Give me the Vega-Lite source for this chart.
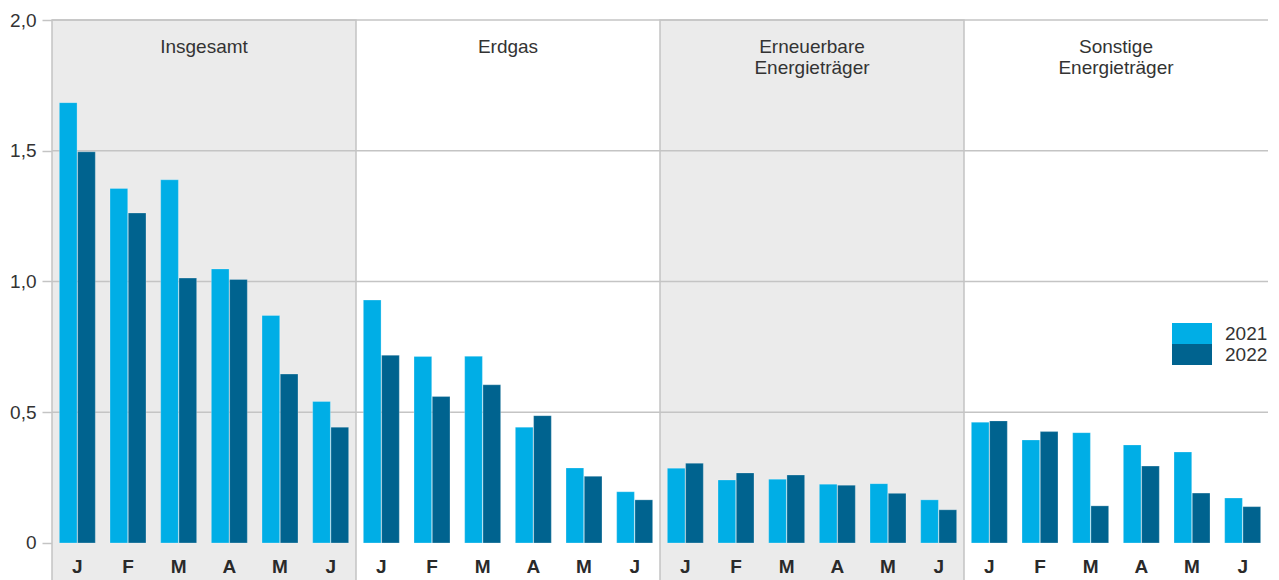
{
  "$schema": "https://vega.github.io/schema/vega-lite/v6.json",
  "width": 1216,
  "height": 560,
  "autosize": {"type": "none"},
  "padding": {"left": 52, "top": 20, "right": 11, "bottom": 0},
  "background": "white",
  "config": {"view": {"stroke": null}, "font": "Liberation Sans"},
  "datasets": {
    "felder": [
      {"kategorie": "Insgesamt", "titel": "Insgesamt"},
      {"kategorie": "Erdgas", "titel": "Erdgas"},
      {"kategorie": "Erneuerbare", "titel": "Erneuerbare\nEnergieträger"},
      {"kategorie": "Sonstige", "titel": "Sonstige\nEnergieträger"}
    ],
    "gitter": [{"y": 0.5}, {"y": 1.0}, {"y": 1.5}, {"y": 2.0}],
    "werte": [
      {"kategorie": "Insgesamt", "slot": "Insgesamt Jan", "kuerzel": "J", "jahr": "2021", "wert": 1.684},
      {"kategorie": "Insgesamt", "slot": "Insgesamt Jan", "kuerzel": "J", "jahr": "2022", "wert": 1.496},
      {"kategorie": "Insgesamt", "slot": "Insgesamt Feb", "kuerzel": "F", "jahr": "2021", "wert": 1.356},
      {"kategorie": "Insgesamt", "slot": "Insgesamt Feb", "kuerzel": "F", "jahr": "2022", "wert": 1.262},
      {"kategorie": "Insgesamt", "slot": "Insgesamt Mär", "kuerzel": "M", "jahr": "2021", "wert": 1.389},
      {"kategorie": "Insgesamt", "slot": "Insgesamt Mär", "kuerzel": "M", "jahr": "2022", "wert": 1.013},
      {"kategorie": "Insgesamt", "slot": "Insgesamt Apr", "kuerzel": "A", "jahr": "2021", "wert": 1.048},
      {"kategorie": "Insgesamt", "slot": "Insgesamt Apr", "kuerzel": "A", "jahr": "2022", "wert": 1.008},
      {"kategorie": "Insgesamt", "slot": "Insgesamt Mai", "kuerzel": "M", "jahr": "2021", "wert": 0.870},
      {"kategorie": "Insgesamt", "slot": "Insgesamt Mai", "kuerzel": "M", "jahr": "2022", "wert": 0.646},
      {"kategorie": "Insgesamt", "slot": "Insgesamt Jun", "kuerzel": "J", "jahr": "2021", "wert": 0.541},
      {"kategorie": "Insgesamt", "slot": "Insgesamt Jun", "kuerzel": "J", "jahr": "2022", "wert": 0.443},
      {"kategorie": "Erdgas", "slot": "Erdgas Jan", "kuerzel": "J", "jahr": "2021", "wert": 0.929},
      {"kategorie": "Erdgas", "slot": "Erdgas Jan", "kuerzel": "J", "jahr": "2022", "wert": 0.718},
      {"kategorie": "Erdgas", "slot": "Erdgas Feb", "kuerzel": "F", "jahr": "2021", "wert": 0.713},
      {"kategorie": "Erdgas", "slot": "Erdgas Feb", "kuerzel": "F", "jahr": "2022", "wert": 0.560},
      {"kategorie": "Erdgas", "slot": "Erdgas Mär", "kuerzel": "M", "jahr": "2021", "wert": 0.714},
      {"kategorie": "Erdgas", "slot": "Erdgas Mär", "kuerzel": "M", "jahr": "2022", "wert": 0.605},
      {"kategorie": "Erdgas", "slot": "Erdgas Apr", "kuerzel": "A", "jahr": "2021", "wert": 0.443},
      {"kategorie": "Erdgas", "slot": "Erdgas Apr", "kuerzel": "A", "jahr": "2022", "wert": 0.487},
      {"kategorie": "Erdgas", "slot": "Erdgas Mai", "kuerzel": "M", "jahr": "2021", "wert": 0.287},
      {"kategorie": "Erdgas", "slot": "Erdgas Mai", "kuerzel": "M", "jahr": "2022", "wert": 0.255},
      {"kategorie": "Erdgas", "slot": "Erdgas Jun", "kuerzel": "J", "jahr": "2021", "wert": 0.196},
      {"kategorie": "Erdgas", "slot": "Erdgas Jun", "kuerzel": "J", "jahr": "2022", "wert": 0.165},
      {"kategorie": "Erneuerbare", "slot": "Erneuerbare Jan", "kuerzel": "J", "jahr": "2021", "wert": 0.286},
      {"kategorie": "Erneuerbare", "slot": "Erneuerbare Jan", "kuerzel": "J", "jahr": "2022", "wert": 0.305},
      {"kategorie": "Erneuerbare", "slot": "Erneuerbare Feb", "kuerzel": "F", "jahr": "2021", "wert": 0.241},
      {"kategorie": "Erneuerbare", "slot": "Erneuerbare Feb", "kuerzel": "F", "jahr": "2022", "wert": 0.268},
      {"kategorie": "Erneuerbare", "slot": "Erneuerbare Mär", "kuerzel": "M", "jahr": "2021", "wert": 0.244},
      {"kategorie": "Erneuerbare", "slot": "Erneuerbare Mär", "kuerzel": "M", "jahr": "2022", "wert": 0.260},
      {"kategorie": "Erneuerbare", "slot": "Erneuerbare Apr", "kuerzel": "A", "jahr": "2021", "wert": 0.225},
      {"kategorie": "Erneuerbare", "slot": "Erneuerbare Apr", "kuerzel": "A", "jahr": "2022", "wert": 0.221},
      {"kategorie": "Erneuerbare", "slot": "Erneuerbare Mai", "kuerzel": "M", "jahr": "2021", "wert": 0.227},
      {"kategorie": "Erneuerbare", "slot": "Erneuerbare Mai", "kuerzel": "M", "jahr": "2022", "wert": 0.190},
      {"kategorie": "Erneuerbare", "slot": "Erneuerbare Jun", "kuerzel": "J", "jahr": "2021", "wert": 0.165},
      {"kategorie": "Erneuerbare", "slot": "Erneuerbare Jun", "kuerzel": "J", "jahr": "2022", "wert": 0.127},
      {"kategorie": "Sonstige", "slot": "Sonstige Jan", "kuerzel": "J", "jahr": "2021", "wert": 0.462},
      {"kategorie": "Sonstige", "slot": "Sonstige Jan", "kuerzel": "J", "jahr": "2022", "wert": 0.467},
      {"kategorie": "Sonstige", "slot": "Sonstige Feb", "kuerzel": "F", "jahr": "2021", "wert": 0.394},
      {"kategorie": "Sonstige", "slot": "Sonstige Feb", "kuerzel": "F", "jahr": "2022", "wert": 0.426},
      {"kategorie": "Sonstige", "slot": "Sonstige Mär", "kuerzel": "M", "jahr": "2021", "wert": 0.422},
      {"kategorie": "Sonstige", "slot": "Sonstige Mär", "kuerzel": "M", "jahr": "2022", "wert": 0.142},
      {"kategorie": "Sonstige", "slot": "Sonstige Apr", "kuerzel": "A", "jahr": "2021", "wert": 0.375},
      {"kategorie": "Sonstige", "slot": "Sonstige Apr", "kuerzel": "A", "jahr": "2022", "wert": 0.294},
      {"kategorie": "Sonstige", "slot": "Sonstige Mai", "kuerzel": "M", "jahr": "2021", "wert": 0.348},
      {"kategorie": "Sonstige", "slot": "Sonstige Mai", "kuerzel": "M", "jahr": "2022", "wert": 0.191},
      {"kategorie": "Sonstige", "slot": "Sonstige Jun", "kuerzel": "J", "jahr": "2021", "wert": 0.172},
      {"kategorie": "Sonstige", "slot": "Sonstige Jun", "kuerzel": "J", "jahr": "2022", "wert": 0.139}
    ]
  },
  "resolve": {"scale": {"x": "independent"}},
  "layer": [
    {
      "data": {"name": "felder"},
      "mark": {"type": "rect", "strokeWidth": 1.5},
      "encoding": {
        "x": {"field": "kategorie", "type": "nominal", "sort": null,
              "scale": {"domain": ["Insgesamt", "Erdgas", "Erneuerbare", "Sonstige"], "paddingInner": 0, "paddingOuter": 0},
              "axis": null},
        "y": {"datum": -0.17, "type": "quantitative", "scale": {"domain": [-0.1415, 2], "nice": false, "zero": false}},
        "y2": {"datum": 2.0},
        "fill": {"field": "kategorie", "type": "nominal", "legend": null,
                 "scale": {"domain": ["Insgesamt", "Erdgas", "Erneuerbare", "Sonstige"], "range": ["#ebebeb", "transparent", "#ebebeb", "transparent"]}},
        "stroke": {"field": "kategorie", "type": "nominal", "legend": null,
                   "scale": {"domain": ["Insgesamt", "Erdgas", "Erneuerbare", "Sonstige"], "range": ["#c4c4c4", "transparent", "#c4c4c4", "transparent"]}}
      }
    },
    {
      "data": {"name": "gitter"},
      "mark": {"type": "rule", "color": "#c4c4c4", "strokeWidth": 1.5},
      "encoding": {
        "y": {"field": "y", "type": "quantitative", "scale": {"domain": [-0.1415, 2], "nice": false, "zero": false}}
      }
    },
    {
      "data": {"name": "werte"},
      "mark": {"type": "bar", "stroke": "#ffffff", "strokeWidth": 0.5, "strokeOpacity": 0.5},
      "encoding": {
        "x": {"field": "slot", "type": "nominal", "sort": null,
              "scale": {"paddingInner": 0.29, "paddingOuter": 0.145}, "axis": null},
        "xOffset": {"field": "jahr", "type": "nominal", "scale": {"paddingInner": 0.03}},
        "y": {"field": "wert", "type": "quantitative",
              "scale": {"domain": [-0.1415, 2], "nice": false, "zero": false},
              "axis": {"title": null, "values": [0, 0.5, 1, 1.5, 2], "grid": false, "domain": false,
                       "ticks": true, "tickSize": 10, "tickColor": "#c4c4c4", "tickWidth": 1.5,
                       "labelFontSize": 19, "labelColor": "#333333", "labelPadding": 6,
                       "labelExpr": "datum.value == 0 ? '0' : replace(format(datum.value, '.1f'), '.', ',')"}},
        "y2": {"datum": 0},
        "color": {"field": "jahr", "type": "nominal",
                  "scale": {"domain": ["2021", "2022"], "range": ["#00aee6", "#00638f"]},
                  "legend": {"orient": "none", "legendX": 1120, "legendY": 303, "title": null,
                             "symbolType": "M-1,-0.525H1V0.525H-1Z", "symbolSize": 1600,
                             "symbolStrokeWidth": 0, "clipHeight": 21, "rowPadding": 0,
                             "labelFontSize": 19, "labelColor": "#333333", "labelOffset": 13}}
      }
    },
    {
      "mark": {"type": "rule", "color": "#1a1a1a", "strokeWidth": 2},
      "encoding": {
        "y": {"datum": 0, "type": "quantitative", "scale": {"domain": [-0.1415, 2], "nice": false, "zero": false}}
      }
    },
    {
      "data": {"name": "werte"},
      "transform": [{"filter": "datum.jahr == '2021'"}],
      "mark": {"type": "text", "fontWeight": "bold", "fontSize": 19, "color": "#2a2a2a", "baseline": "middle", "align": "center"},
      "encoding": {
        "x": {"field": "slot", "type": "nominal", "sort": null,
              "scale": {"paddingInner": 0.29, "paddingOuter": 0.145}, "axis": null},
        "y": {"datum": -0.093, "type": "quantitative", "scale": {"domain": [-0.1415, 2], "nice": false, "zero": false}},
        "text": {"field": "kuerzel"}
      }
    },
    {
      "data": {"name": "felder"},
      "mark": {"type": "text", "fontSize": 19, "color": "#333333", "baseline": "top", "align": "center", "lineBreak": "\n", "lineHeight": 21},
      "encoding": {
        "x": {"field": "kategorie", "type": "nominal", "sort": null,
              "scale": {"domain": ["Insgesamt", "Erdgas", "Erneuerbare", "Sonstige"], "paddingInner": 0, "paddingOuter": 0},
              "axis": null},
        "y": {"datum": 1.933, "type": "quantitative", "scale": {"domain": [-0.1415, 2], "nice": false, "zero": false}},
        "text": {"field": "titel"}
      }
    }
  ]
}
